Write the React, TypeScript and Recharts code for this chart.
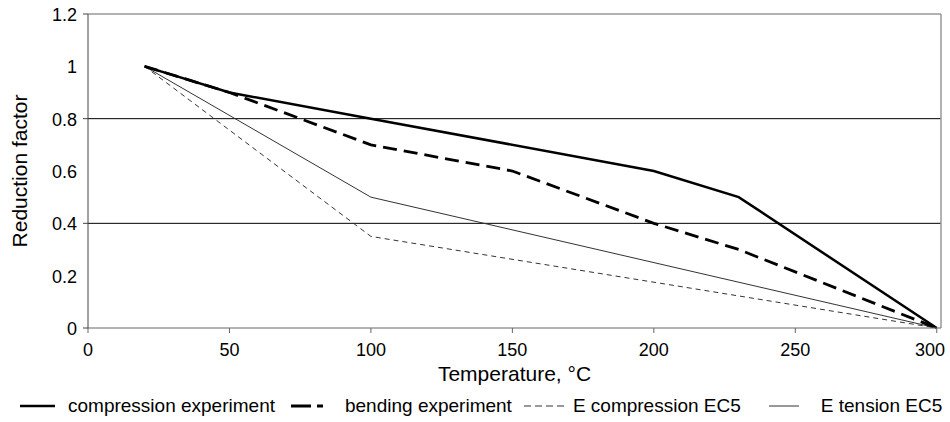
import React from "react";
import {
  LineChart,
  Line,
  XAxis,
  YAxis,
  ReferenceLine,
  Legend,
} from "recharts";

const compressionExp = [
  { t: 20, v: 1 },
  { t: 50, v: 0.9 },
  { t: 100, v: 0.8 },
  { t: 200, v: 0.6 },
  { t: 230, v: 0.5 },
  { t: 300, v: 0 },
];
const bendingExp = [
  { t: 20, v: 1 },
  { t: 50, v: 0.9 },
  { t: 100, v: 0.7 },
  { t: 150, v: 0.6 },
  { t: 200, v: 0.4 },
  { t: 230, v: 0.3 },
  { t: 300, v: 0 },
];
const eCompressionEC5 = [
  { t: 20, v: 1 },
  { t: 100, v: 0.35 },
  { t: 300, v: 0 },
];
const eTensionEC5 = [
  { t: 20, v: 1 },
  { t: 100, v: 0.5 },
  { t: 300, v: 0 },
];

const xTicks = [0, 50, 100, 150, 200, 250, 300];
const yTicks = [0, 0.2, 0.4, 0.6, 0.8, 1, 1.2];
const yMajor = [0, 0.4, 0.8, 1.2];
const gridValues = [0.4, 0.8];

const FONT = "'Liberation Sans', Arial, sans-serif";

const seriesStyles = [
  { name: "compression experiment", width: 2.5, dash: undefined as string | undefined, color: "#000", icon: 35, gap: 13, after: 16 },
  { name: "bending experiment", width: 2.8, dash: "20 6 6 40", color: "#000", icon: 40, gap: 14, after: 12 },
  { name: "E compression EC5", width: 1, dash: "7 4", color: "#333", icon: 40, gap: 9, after: 28 },
  { name: "E tension EC5", width: 1, dash: undefined as string | undefined, color: "#333", icon: 30, gap: 22, after: 0 },
];

const YTick = (props: any) => {
  const { y, payload } = props;
  const v = payload.value;
  const major = yMajor.some((m) => Math.abs(m - v) < 1e-6);
  return (
    <g>
      {major && <line x1={88} x2={83} y1={y} y2={y} stroke="#444" strokeWidth={1} />}
      <text x={77} y={y} dy={7} textAnchor="end" fontSize={18} fontFamily={FONT} fill="#000">
        {String(v)}
      </text>
    </g>
  );
};

const XTick = (props: any) => {
  const { x, y, payload } = props;
  const label = String(payload.value);
  const halfW = label.length * 5;
  const cx = Math.min(x, 945 - halfW);
  return (
    <text x={cx} y={y} dy={14} textAnchor="middle" fontSize={18} fontFamily={FONT} fill="#000">
      {label}
    </text>
  );
};

const LegendContent = () => (
  <div
    style={{
      display: "flex",
      justifyContent: "flex-start",
      alignItems: "center",
      paddingLeft: 20,
      height: 24,
      fontFamily: FONT,
      fontSize: 19,
      color: "#000",
      whiteSpace: "nowrap",
    }}
  >
    {seriesStyles.map((s, i) => (
      <div key={i} style={{ display: "flex", alignItems: "center", marginRight: s.after }}>
        <svg width={s.icon} height={10} style={{ marginRight: s.gap }}>
          <line
            x1={0}
            x2={s.icon}
            y1={5}
            y2={5}
            stroke={s.color}
            strokeWidth={s.width}
            strokeDasharray={s.dash}
          />
        </svg>
        <span>{s.name}</span>
      </div>
    ))}
  </div>
);

export default function App() {
  return (
    <div style={{ position: "absolute", left: 0, top: 0, width: 950, height: 422, background: "#fff" }}>
      <LineChart
        width={950}
        height={422}
        margin={{ top: 14, right: 9, left: 0, bottom: 4 }}
        style={{ fontFamily: FONT }}
      >
        <XAxis
          type="number"
          dataKey="t"
          domain={[0, 301.5]}
          ticks={xTicks}
          allowDataOverflow
          stroke="#666"
          tickSize={5}
          tick={<XTick />}
          tickMargin={9}
          height={66}
          label={{
            value: "Temperature, °C",
            position: "insideBottom",
            offset: 13,
            fontSize: 21,
            fill: "#000",
            fontFamily: FONT,
          }}
        />
        <YAxis
          type="number"
          domain={[0, 1.2]}
          ticks={yTicks}
          width={88}
          stroke="#444"
          tickLine={false}
          tick={<YTick />}
          label={{
            value: "Reduction factor",
            angle: -90,
            position: "insideLeft",
            offset: 20,
            textAnchor: "middle",
            fontSize: 21,
            fill: "#000",
            fontFamily: FONT,
          }}
        />
        {gridValues.map((g) => (
          <ReferenceLine key={g} y={g} stroke="#000" strokeWidth={1} />
        ))}
        <ReferenceLine y={1.2} stroke="#999" strokeWidth={1.5} />
        <ReferenceLine x={301.5} stroke="#999" strokeWidth={1.5} />
        <Line
          data={eCompressionEC5}
          dataKey="v"
          name="E compression EC5"
          type="linear"
          stroke="#333"
          strokeWidth={1}
          strokeDasharray="5 4"
          dot={false}
          isAnimationActive={false}
        />
        <Line
          data={eTensionEC5}
          dataKey="v"
          name="E tension EC5"
          type="linear"
          stroke="#333"
          strokeWidth={1}
          dot={false}
          isAnimationActive={false}
        />
        <Line
          data={bendingExp}
          dataKey="v"
          name="bending experiment"
          type="linear"
          stroke="#000"
          strokeWidth={2.8}
          strokeDasharray="14 7"
          dot={false}
          isAnimationActive={false}
        />
        <Line
          data={compressionExp}
          dataKey="v"
          name="compression experiment"
          type="linear"
          stroke="#000"
          strokeWidth={2.5}
          dot={false}
          isAnimationActive={false}
        />
        <Legend verticalAlign="bottom" height={24} content={<LegendContent />} />
      </LineChart>
    </div>
  );
}
